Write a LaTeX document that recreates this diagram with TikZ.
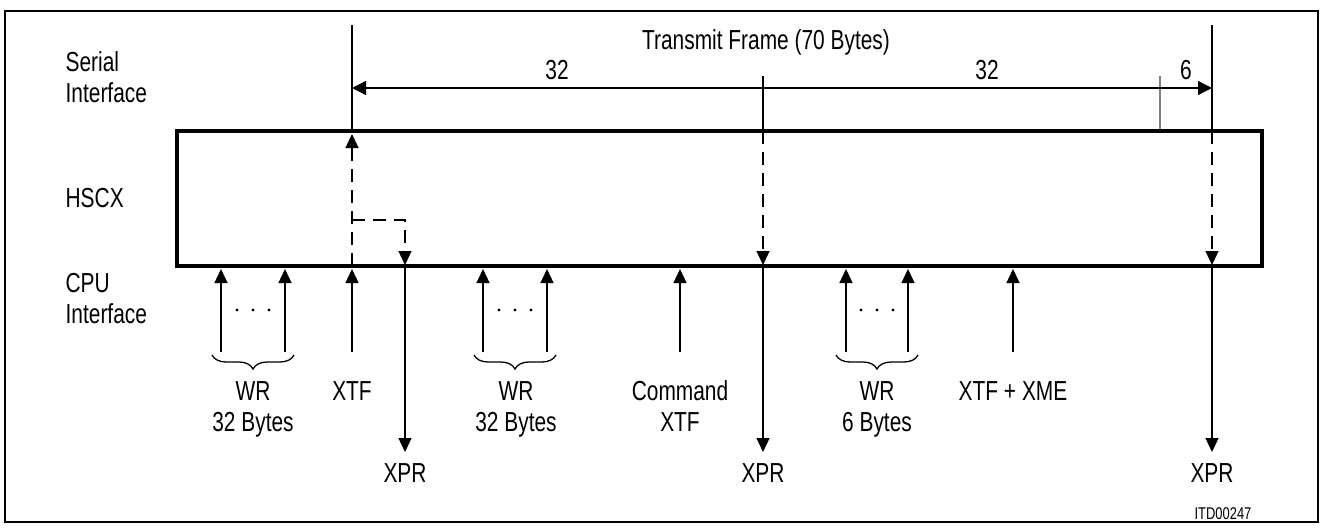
\documentclass[tikz,border=0pt]{standalone}
\usepackage{fontspec}
\setmainfont[FakeStretch=0.76]{Liberation Sans}
\usetikzlibrary{arrows.meta,decorations.pathreplacing}
\begin{document}
\begin{tikzpicture}[x=1pt,y=-1pt,line width=1.3pt,
  tipend/.style={-{Triangle[length=14pt,width=13pt]}},
  dimtips/.style={{Triangle[length=14pt,width=14pt]}-{Triangle[length=14pt,width=14pt]}},
  dsh/.style={dash pattern=on 13pt off 8pt},
  lbl/.style={inner sep=0pt,font=\fontsize{27.5}{31}\selectfont,align=center,anchor=base},
  brc/.style={decorate,decoration={brace,mirror,amplitude=14pt}},
  boxst/.style={draw,line width=3.5pt,minimum width=1085pt,minimum height=135pt,inner sep=0pt}]
\useasboundingbox (0,0) rectangle (1324,527);
\draw[line width=2.5pt] (5,11) rectangle (1318,522);
\node[boxst] (hscx) at (719.5,198.5) {};

% top vertical lines
\coordinate (v1t) at (352,25);
\coordinate (v2t) at (763,76);
\coordinate (v3t) at (1212,25);
\coordinate (tk) at (1160,76);
\draw (v1t) -- (v1t |- hscx.north);
\draw (v2t) -- (v2t |- hscx.north);
\draw (v3t) -- (v3t |- hscx.north);
\draw[gray] (tk) -- (tk |- hscx.north);
\coordinate (d1) at (352,88);
\coordinate (d2) at (1212,88);
\draw[dimtips] (d1) -- (d2);

% dashed arrows inside box
\coordinate (a1) at (352,266);
\coordinate (a1t) at (352,134);
\draw[dsh,tipend] (a1) -- (a1t);
\coordinate (b1) at (352,220);
\coordinate (b2) at (405,265);
\draw[dsh,tipend] (b1) -| (b2);
\coordinate (c1) at (763,131);
\coordinate (c2) at (763,265);
\draw[dsh,tipend] (c1) -- (c2);
\coordinate (e1) at (1212,131);
\coordinate (e2) at (1212,265);
\draw[dsh,tipend] (e1) -- (e2);

% up arrows from CPU
\foreach \x [count=\i] in {221,285,352,483,547,680,846,908,1013}{
  \coordinate (u\i) at (\x,352);
  \draw[tipend] (u\i) -- (\x,269);
}
% down arrows XPR
\foreach \x [count=\i] in {405,763,1212}{
  \coordinate (x\i) at (\x,452);
  \draw[tipend] (\x,266) -- (x\i);
}

% dots and braces
\foreach \c in {253,515,877}{
  \fill (\c-16,310) circle (1.7pt) (\c,310) circle (1.7pt) (\c+16,310) circle (1.7pt);
}
\draw[brc] (212,355) -- (294,355);
\draw[brc] (474,355) -- (556,355);
\draw[brc] (836,355) -- (918,355);

% labels
\node[lbl,anchor=base west,align=left] (ser) at (65,102.5) {Serial\\Interface};
\node[lbl,anchor=base west] (hs) at (65,207.5) {HSCX};
\node[lbl,anchor=base west,align=left] (cpu) at (65,323.5) {CPU\\Interface};
\node[lbl] (tf) at (766,50) {Transmit Frame (70 Bytes)};
\node[lbl] (n1) at (557,79.5) {32};
\node[lbl] (n2) at (987,79.5) {32};
\node[lbl] (n3) at (1186,79.5) {6};
\node[lbl] (w1) at (253,431.5) {WR\\32 Bytes};
\node[lbl] (w2) at (516,431.5) {WR\\32 Bytes};
\node[lbl] (w3) at (877,431.5) {WR\\6 Bytes};
\node[lbl] (xtf) at (352,400.5) {XTF};
\node[lbl] (cmd) at (680,431.5) {Command\\XTF};
\node[lbl] (xme) at (1013,400.5) {XTF + XME};
\node[lbl] (p1) at (405,482.5) {XPR};
\node[lbl] (p2) at (763,482.5) {XPR};
\node[lbl] (p3) at (1212,482.5) {XPR};
\node[lbl,font=\fontsize{17}{20}\selectfont] (itd) at (1223,519) {ITD00247};
\end{tikzpicture}
\end{document}
